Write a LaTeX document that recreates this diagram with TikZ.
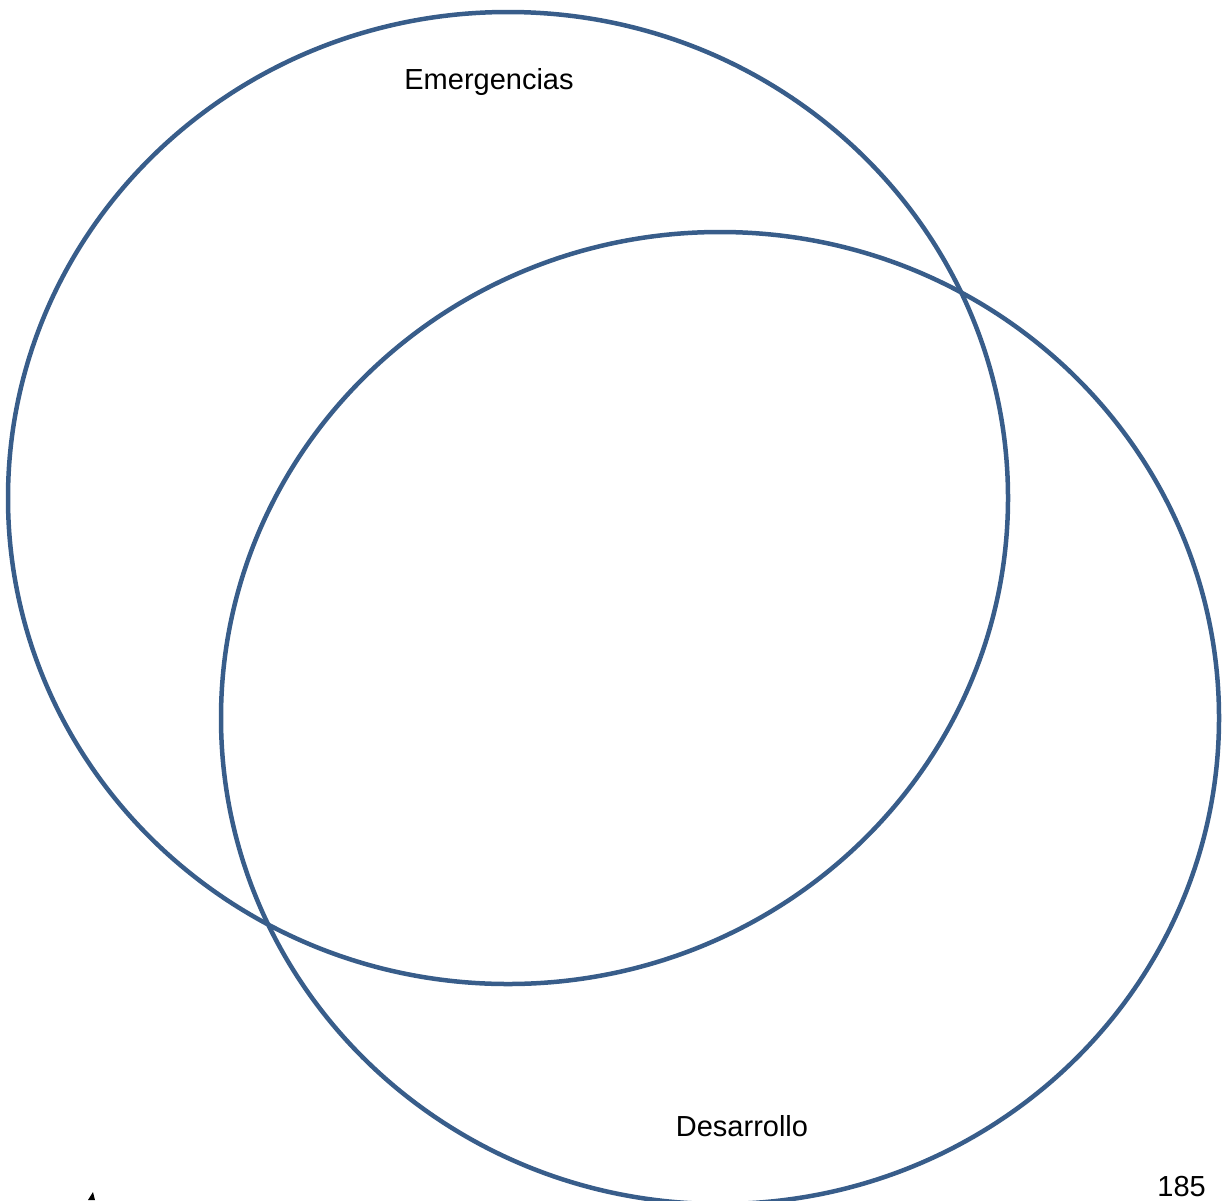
\documentclass[tikz,border=0pt]{standalone}
\usepackage{fontspec}
\setmainfont{Liberation Sans}
\definecolor{ringblue}{RGB}{56,93,138}
\begin{document}
\begin{tikzpicture}[x=1pt,y=-1pt,
  ring/.style={draw=ringblue,line width=4.5pt},
  lbl/.style={font=\fontsize{29}{34}\selectfont,inner sep=0pt}]
\useasboundingbox (0,0) rectangle (1222,1200);
\begin{scope}
\clip (0,0) rectangle (1222,1200);
\draw[ring] (508,498) ellipse [x radius=500,y radius=486];
\draw[ring] (720,718) ellipse [x radius=499,y radius=486];
\fill[black] (88,1200) -- (93,1192) -- (95,1200) -- cycle;
\end{scope}
\node[lbl] (em) at (489,82) {Emergencias};
\node[lbl] (de) at (742,1126) {Desarrollo};
\node[lbl,anchor=base east] (pg) at (1206,1196) {185};
\end{tikzpicture}
\end{document}
